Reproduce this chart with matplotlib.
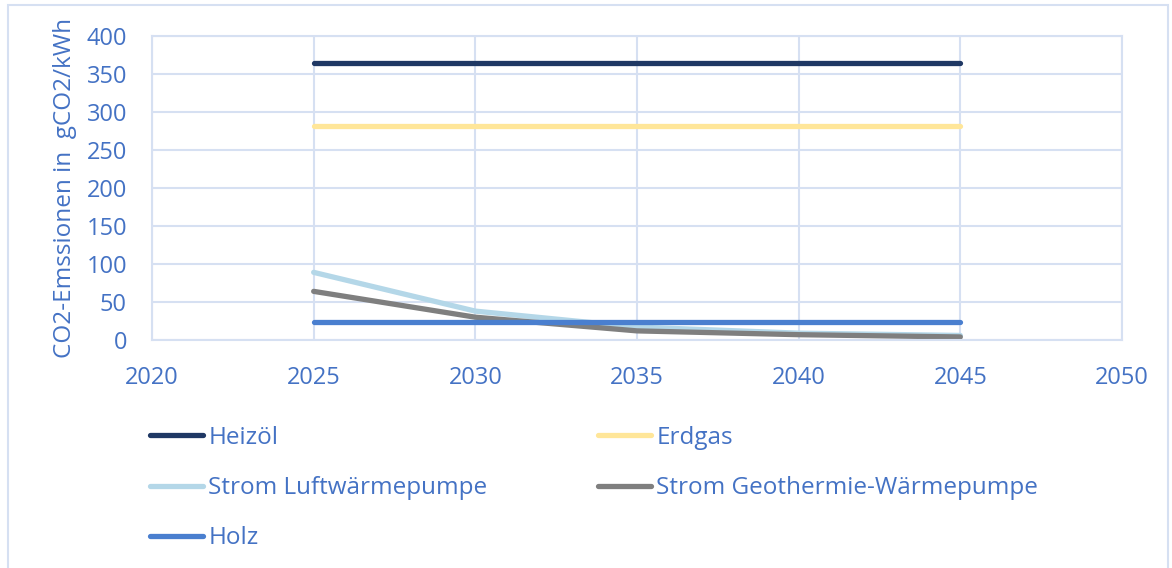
import matplotlib
matplotlib.use("Agg")
import matplotlib.pyplot as plt
from matplotlib.patches import Rectangle
from matplotlib.lines import Line2D

plt.rcParams['font.family'] = ['Open Sans', 'DejaVu Sans']

years = [2025, 2030, 2035, 2040, 2045]
heizoel = [364, 364, 364, 364, 364]
erdgas = [282, 282, 282, 282, 282]
luft_wp = [89, 38, 17, 9, 6]
geo_wp = [64, 30, 12, 7, 4]
holz = [24, 24, 24, 24, 24]

series = [
    ("Heizöl", heizoel, "#1F3864"),
    ("Erdgas", erdgas, "#FFE699"),
    ("Strom Luftwärmepumpe", luft_wp, "#B4D7E8"),
    ("Strom Geothermie-Wärmepumpe", geo_wp, "#7F7F7F"),
    ("Holz", holz, "#4A7FCF"),
]

x_ticks = [2020, 2025, 2030, 2035, 2040, 2045, 2050]
y_ticks = [0, 50, 100, 150, 200, 250, 300, 350, 400]

text_color = "#4472C4"
grid_color = "#D6E0F2"
tick_fs = 17
label_fs = 17.5

W, H = 1172, 568
fig = plt.figure(figsize=(W / 100, H / 100), dpi=100)

# outer frame
fig.patches.append(Rectangle((8 / W, -0.01), (1168 - 8) / W, 1 - 5 / H + 0.01,
                             transform=fig.transFigure, fill=False,
                             edgecolor=grid_color, linewidth=1.5))

ax = fig.add_axes([152 / W, 1 - 340 / H, (1122 - 152) / W, (340 - 36) / H])

handles = {}
for name, vals, col in series:
    (ln,) = ax.plot(years, vals, color=col, linewidth=3.8, solid_capstyle='round',
                    solid_joinstyle='round', label=name)
    handles[name] = ln

ax.set_xlim(2020, 2050)
ax.set_ylim(0, 400)
ax.set_xticks(x_ticks)
ax.set_yticks(y_ticks)
ax.grid(True, color=grid_color, linewidth=1.5)
ax.set_axisbelow(True)
for s in ax.spines.values():
    s.set_color(grid_color)
    s.set_linewidth(1.5)
ax.tick_params(axis='both', length=0, labelsize=tick_fs, labelcolor=text_color)
ax.tick_params(axis='x', pad=19)
ax.tick_params(axis='y', pad=18)
ax.set_ylabel("CO2-Emssionen in  gCO2/kWh", color=text_color, fontsize=label_fs,
              labelpad=7)

def legend_col(names, x_px):
    hs = [Line2D([], [], color=handles[n].get_color(), linewidth=3.8,
                 solid_capstyle='round') for n in names]
    leg = fig.legend(hs, names, loc='upper left',
                     bbox_to_anchor=(x_px / W, 1 - 426 / H),
                     frameon=False, fontsize=label_fs, handlelength=2.2,
                     handletextpad=0.2, labelspacing=1.08, borderpad=0,
                     borderaxespad=0)
    for t in leg.get_texts():
        t.set_color(text_color)
    return leg

legend_col(["Heizöl", "Strom Luftwärmepumpe", "Holz"], 150)
legend_col(["Erdgas", "Strom Geothermie-Wärmepumpe"], 598)

fig.savefig("out.png", dpi=100)
